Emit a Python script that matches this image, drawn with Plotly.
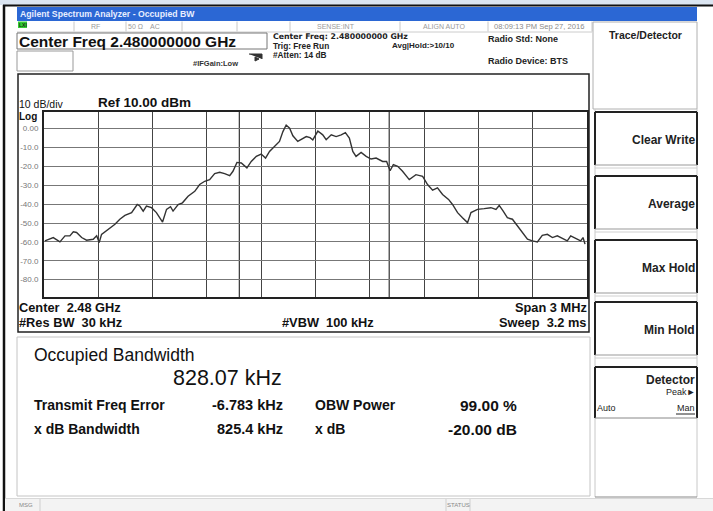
import plotly.graph_objects as go

# ---------------- data ----------------
freq_offset_khz = [-1495, -1449, -1412, -1384, -1357, -1338, -1320, -1292, -1265, -1228,
                   -1209, -1195, -1182, -1145, -1108, -1081, -1053, -1016, -985, -971,
                   -952, -934, -906, -879, -845, -823, -801, -787, -759, -735,
                   -704, -667, -640, -612, -585, -557, -529, -502, -474, -456,
                   -434, -410, -379, -355, -327, -300, -276, -254, -226, -199,
                   -180, -162, -143, -125, -98, -70, -51, -30, -15, 13,
                   40, 59, 87, 114, 142, 165, 187, 206, 224, 252,
                   280, 307, 335, 371, 393, 412, 430, 454, 481, 518,
                   555, 592, 619, 647, 674, 702, 735, 757, 785, 812,
                   840, 859, 895, 932, 969, 997, 1015, 1037, 1060, 1088,
                   1116, 1143, 1171, 1198, 1226, 1253, 1281, 1309, 1336, 1364,
                   1391, 1410, 1438, 1465, 1478, 1489]
level_dbm = [-59.5, -57.7, -60.0, -56.8, -56.8, -54.7, -55.0, -57.7, -59.1, -58.6,
             -56.8, -60.3, -56.0, -53.3, -50.7, -48.0, -46.0, -44.5, -40.2, -41.0,
             -43.7, -41.0, -41.9, -44.5, -49.5, -42.8, -41.4, -43.7, -40.2, -39.3,
             -35.8, -33.2, -29.6, -27.9, -27.0, -23.8, -23.1, -23.8, -24.9, -22.6,
             -17.9, -18.2, -20.8, -17.4, -14.7, -13.5, -15.6, -12.1, -9.5, -6.8,
             -1.6, 1.9, 0.2, -3.8, -6.8, -5.0, -4.2, -4.8, -6.0, -1.3,
             -3.3, -5.9, -3.3, -4.2, -3.3, -2.1, -5.0, -12.1, -14.7, -12.6,
             -14.7, -16.1, -15.6, -17.4, -17.4, -22.3, -19.1, -20.0, -22.6, -27.0,
             -24.4, -25.3, -29.6, -32.6, -31.4, -34.9, -37.5, -40.2, -44.5, -47.2,
             -49.8, -44.5, -42.8, -42.4, -41.9, -42.8, -40.7, -43.7, -47.2, -48.0,
             -51.6, -55.0, -58.6, -59.5, -60.0, -56.5, -56.0, -57.7, -56.8, -58.2,
             -59.5, -56.8, -58.2, -59.5, -57.7, -61.2]

y_tick_vals = [0, -10, -20, -30, -40, -50, -60, -70, -80]
y_tick_text = ["0.00", "-10.0", "-20.0", "-30.0", "-40.0", "-50.0", "-60.0", "-70.0", "-80.0"]

obw_khz = 828.07
freq_error_khz = -6.783
span_khz = 3000

softkeys = ["Clear Write", "Average", "Max Hold", "Min Hold"]

result_labels_left = ["Transmit Freq Error", "x dB Bandwidth"]
result_values_left = ["-6.783 kHz", "825.4 kHz"]
result_labels_right = ["OBW Power", "x dB"]
result_values_right = ["99.00 %", "-20.00 dB"]

# ---------------- helpers (pixel -> paper) ----------------
W, H = 713, 511
FONT = "Liberation Sans, Arial, sans-serif"
WIDE = "DejaVu Sans, sans-serif"
shapes = []
anns = []


def px(x):
    return x / W


def py(y):
    return 1 - y / H


def rect(x0, y0, x1, y1, color="#222", width=1, fill=None, layer="below"):
    shapes.append(dict(type="rect", xref="paper", yref="paper",
                       x0=px(x0), x1=px(x1), y0=py(y1), y1=py(y0),
                       line=dict(color=color, width=width),
                       fillcolor=fill if fill else "rgba(0,0,0,0)", layer=layer))


def line(x0, y0, x1, y1, color="#222", width=1, layer="below"):
    shapes.append(dict(type="line", xref="paper", yref="paper",
                       x0=px(x0), x1=px(x1), y0=py(y0), y1=py(y1),
                       line=dict(color=color, width=width), layer=layer))


def text(x, y, s, size=10, color="#111", anchor="left", bold=False, family=FONT):
    anns.append(dict(x=px(x), y=py(y), xref="paper", yref="paper",
                     text=f"<b>{s}</b>" if bold else s, showarrow=False,
                     xanchor=anchor, yanchor="middle", borderpad=0, borderwidth=0,
                     font=dict(size=size, color=color, family=family)))


# ---------------- window chrome ----------------
rect(0, 0, 713, 5, color="#dbe5f1", width=0, fill="#dbe5f1")
line(3, 5.5, 713, 5.5, color="#111", width=2)
line(4, 5, 4, 511, color="#111", width=2.5)
rect(17, 7, 697, 21, color="#2b67d4", width=0, fill="#2b67d4")
text(20, 14, "Agilent Spectrum Analyzer - Occupied BW", size=8.7, color="#e8eeff", bold=True)

# status row
line(17, 32, 592, 32, color="#cccccc", width=1)
rect(18, 21.5, 27, 28, color="#33bb33", width=0, fill="#33cc33")
text(19, 25, "LXI", size=5, color="#113311", bold=True)
for sx in [74, 126, 182, 237, 290, 400, 488, 592]:
    line(sx, 21.5, sx, 31.5, color="#c8c8c8", width=1)
text(95, 26.5, "RF", size=7, color="#9a9a9a", anchor="center")
text(135, 26.5, "50 Ω", size=7, color="#9a9a9a", anchor="center")
text(155, 26.5, "AC", size=7, color="#9a9a9a", anchor="center")
text(336, 26.5, "SENSE:INT", size=7, color="#9a9a9a", anchor="center")
text(444, 26.5, "ALIGN AUTO", size=7, color="#9a9a9a", anchor="center")
text(539, 26.5, "08:09:13 PM Sep 27, 2016", size=7.6, color="#8a8a8a", anchor="center")

# header boxes
rect(17, 33, 267, 49, color="#777", width=1)
rect(17, 51, 73, 71, color="#999", width=1)
text(19, 41.5, "Center Freq 2.480000000 GHz", size=15.5, color="#111", bold=True)
text(193, 63, "#IFGain:Low", size=7.5, color="#333", bold=True)
shapes.append(dict(type="path", xref="paper", yref="paper", layer="above",
                   path=f"M {px(249)},{py(54)} L {px(262)},{py(54)} L {px(262)},{py(59)} "
                        f"M {px(255)},{py(57)} L {px(259)},{py(59)} L {px(255)},{py(61)} Z",
                   line=dict(color="#333", width=1), fillcolor="#333"))
text(273, 36, "Center Freq: 2.480000000 GHz", size=7.8, color="#222", bold=True, family=WIDE)
text(273, 45.5, "Trig: Free Run", size=8.3, color="#222", bold=True)
text(273, 55, "#Atten: 14 dB", size=8.3, color="#222", bold=True)
text(392, 45.5, "Avg|Hold:&gt;10/10", size=8, color="#222", bold=True)
text(488, 39, "Radio Std: None", size=9, color="#222", bold=True)
text(488, 61, "Radio Device: BTS", size=9, color="#222", bold=True)

# ---------------- trace panel ----------------
rect(18, 74, 589, 332, color="#222", width=1.5)
text(19, 104, "10 dB/div", size=10.5, color="#111")
text(19, 116, "Log", size=10, color="#111", bold=True)
text(98, 102, "Ref 10.00 dBm", size=13.5, color="#111", bold=True)
text(19, 307, "Center  2.48 GHz", size=12.8, color="#111", bold=True)
text(19, 322, "#Res BW  30 kHz", size=12.8, color="#111", bold=True)
text(328, 322, "#VBW  100 kHz", size=12.8, color="#111", anchor="center", bold=True)
text(587, 307, "Span 3 MHz", size=12.8, color="#111", anchor="right", bold=True)
text(587, 322, "Sweep  3.2 ms", size=12.8, color="#111", anchor="right", bold=True)

# OBW boundary markers (derived from the measured OBW and freq error)
for edge in [freq_error_khz - obw_khz / 2, freq_error_khz + obw_khz / 2]:
    shapes.append(dict(type="line", xref="x", yref="paper", x0=edge, x1=edge,
                       y0=py(297), y1=py(112), line=dict(color="#333", width=1.2), layer="below"))

# ---------------- results panel ----------------
rect(17, 337, 590, 496, color="#c4c4c4", width=1)
text(34, 355, "Occupied Bandwidth", size=17.5, color="#111")
text(282, 378, "828.07 kHz", size=21.5, color="#111", anchor="right")
for i, yy in enumerate([405, 429]):
    text(34, yy, result_labels_left[i], size=14, color="#111", bold=True)
    text(283, yy, result_values_left[i], size=14.5, color="#111", anchor="right", bold=True)
    text(315, yy, result_labels_right[i], size=14, color="#111", bold=True)
    text(517, yy, result_values_right[i], size=15.5, color="#111", anchor="right", bold=True)

# bottom status bar
line(5, 498.5, 713, 498.5, color="#d8d8d8", width=1)
rect(5, 499, 713, 511, color="#f3f3f3", width=0, fill="#f3f3f3")
line(40, 499, 40, 511, color="#cfcfcf", width=1)
line(446, 499, 446, 511, color="#cfcfcf", width=1)
line(470, 499, 470, 511, color="#cfcfcf", width=1)
text(19, 504.5, "MSG", size=6, color="#888")
text(458, 504.5, "STATUS", size=6, color="#888", anchor="center")

# ---------------- softkey column ----------------
rect(593, 22, 697, 109, color="#b0b0b0", width=1)
text(645, 35, "Trace/Detector", size=10.5, color="#222", anchor="center", bold=True)
line(595, 109, 595, 497, color="#c8c8c8", width=1)
line(697, 109, 697, 497, color="#c8c8c8", width=1)
tops = [112, 176, 240, 302]
for top, label in zip(tops, softkeys):
    line(595, top, 697, top, color="#222", width=2)
    line(595, top, 595, top + 53, color="#222", width=2)
    line(697, top, 697, top + 53, color="#222", width=2)
    line(595, top + 53, 697, top + 53, color="#999", width=1)
    line(595, top + 56, 697, top + 56, color="#d0d0d0", width=1)
    text(695, top + 28, label, size=12, color="#222", anchor="right", bold=True)
# detector key
line(595, 367, 697, 367, color="#222", width=2)
line(595, 367, 595, 418, color="#222", width=2)
line(697, 367, 697, 418, color="#222", width=2)
line(595, 418, 697, 418, color="#888", width=1)
line(595, 497, 697, 497, color="#888", width=1)
text(695, 380, "Detector", size=12, color="#222", anchor="right", bold=True)
text(695, 392, "Peak►", size=9, color="#222", anchor="right")
text(597, 408, "Auto", size=9, color="#222")
text(695, 408, "Man", size=9, color="#222", anchor="right")
line(676, 414, 695, 414, color="#222", width=1)

# ---------------- figure ----------------
fig = go.Figure()
fig.add_trace(go.Scatter(x=freq_offset_khz, y=level_dbm, mode="lines",
                         line=dict(color="#333333", width=1.4), hoverinfo="skip",
                         showlegend=False))

fig.update_layout(
    width=W, height=H, autosize=False,
    margin=dict(l=0, r=0, t=0, b=0, pad=0),
    paper_bgcolor="white", plot_bgcolor="white",
    shapes=shapes, annotations=anns, showlegend=False,
    xaxis=dict(domain=[px(44), px(587)], range=[-span_khz / 2, span_khz / 2],
               tick0=-span_khz / 2, dtick=span_khz / 10, showgrid=True,
               gridcolor="#444", gridwidth=1.2, showticklabels=False, ticks="",
               zeroline=False, showline=True, mirror=True, linecolor="#222", linewidth=2,
               fixedrange=True),
    yaxis=dict(domain=[py(297), py(112)], range=[-89.2, 8.8],
               tickvals=y_tick_vals, ticktext=y_tick_text, showgrid=True,
               gridcolor="#777", gridwidth=1, ticks="", ticklabelstandoff=2,
               tickfont=dict(size=8, color="#777", family=FONT),
               zeroline=False, showline=True, mirror=True, linecolor="#222", linewidth=2,
               fixedrange=True),
)

fig.write_html("out.html", config={"displayModeBar": False},
               post_script="document.body.style.margin='0';document.body.style.overflow='hidden';")
